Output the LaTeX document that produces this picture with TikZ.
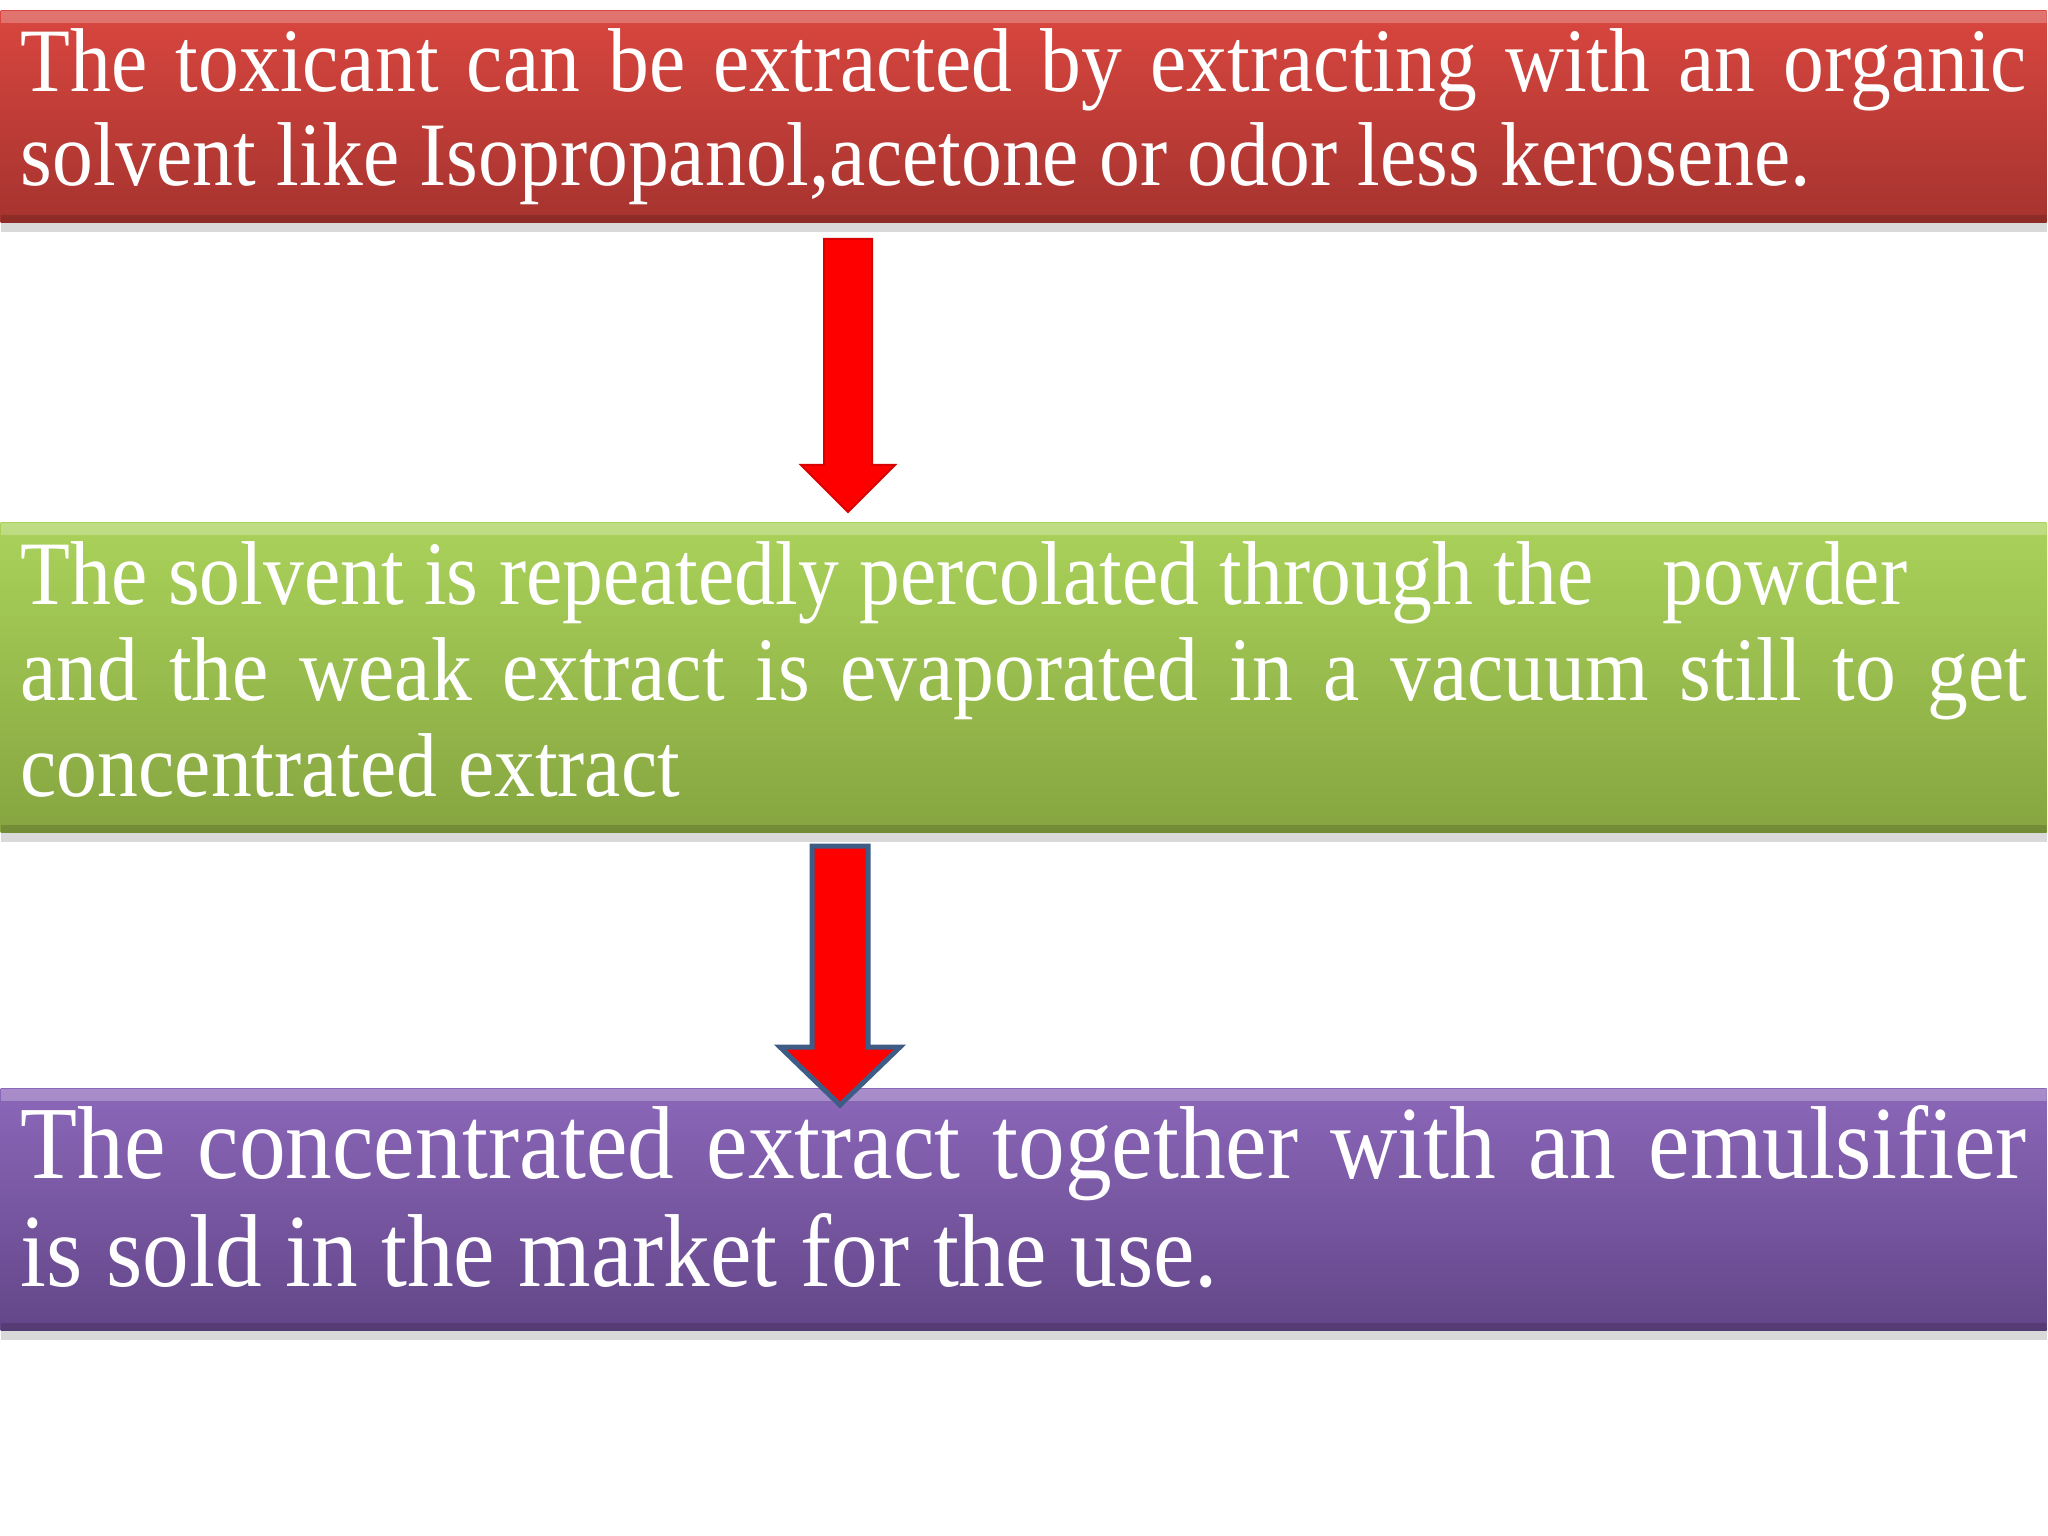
\documentclass[tikz,border=0pt]{standalone}
\usepackage{fontspec}
\setmainfont{Liberation Serif}[FakeStretch=0.90]
\usetikzlibrary{calc,shadows,positioning}

\definecolor{redtop}{HTML}{D9463F}
\definecolor{redbot}{HTML}{A6332F}
\definecolor{greentop}{HTML}{AAD25A}
\definecolor{greenbot}{HTML}{86A540}
\definecolor{purpletop}{HTML}{8B67B9}
\definecolor{purplebot}{HTML}{634689}
\definecolor{arrowedge}{HTML}{3D5C86}

\tikzset{
  stepbox/.style={rectangle, anchor=north west, inner xsep=2mm, inner ysep=0pt,
    minimum width=20.46cm, text width=20.06cm, align=justify, text=white,
    drop shadow={shadow xshift=0pt, shadow yshift=-0.9mm, opacity=0.3},
    path picture={
      \fill[white, opacity=0.25] (path picture bounding box.north west) rectangle ([yshift=-1.2mm]path picture bounding box.north east);
      \fill[black, opacity=0.15] (path picture bounding box.south west) rectangle ([yshift=0.8mm]path picture bounding box.south east);
    }},
  bigtext/.style={font=\fontsize{25.8pt}{26.8pt}\selectfont},
}

\begin{document}
\begin{tikzpicture}
\useasboundingbox (0,0) rectangle (20.48,-15.36);

% the three step boxes
\node[stepbox, bigtext, top color=redtop, bottom color=redbot, minimum height=2.12cm] (extract) at (0,-0.10)
  {The toxicant can be extracted by extracting with an organic\linebreak solvent like Isopropanol,acetone or odor less kerosene.};
\node[stepbox, font=\fontsize{25.8pt}{27.3pt}\selectfont, top color=greentop, bottom color=greenbot, minimum height=3.10cm] (percolate) at (0,-5.22)
  {The solvent is repeatedly percolated through the\hspace*{6.9mm}powder\newline and the weak extract is evaporated in a vacuum still to get\linebreak concentrated extract\par\vspace{1.6mm}};
\node[stepbox, font=\fontsize{29.5pt}{30.7pt}\selectfont, top color=purpletop, bottom color=purplebot, minimum height=2.42cm] (market) at (0,-10.88)
  {The concentrated extract together with an emulsifier\linebreak is sold in the market for the use.\par\vspace{2.6mm}};

% first arrow
\coordinate (a1s) at (8.48,-2.39);
\coordinate (a1h) at (8.48,-4.65);
\coordinate (a1e) at (8.48,-5.12);
\filldraw[fill=red, draw=red!85!black, line width=0.2mm] ($(a1s)+(-0.24,0)$) -- ($(a1s)+(0.24,0)$) -- ($(a1h)+(0.24,0)$) -- ($(a1h)+(0.47,0)$) -- (a1e) -- ($(a1h)+(-0.47,0)$) -- ($(a1h)+(-0.24,0)$) -- cycle;

% second arrow
\coordinate (a2s) at (8.40,-8.46);
\coordinate (a2h) at (8.40,-10.47);
\coordinate (a2e) at (8.40,-11.05);
\filldraw[fill=red, draw=arrowedge, line width=0.5mm, line join=miter] ($(a2s)+(-0.28,0)$) -- ($(a2s)+(0.28,0)$) -- ($(a2h)+(0.28,0)$) -- ($(a2h)+(0.60,0)$) -- (a2e) -- ($(a2h)+(-0.60,0)$) -- ($(a2h)+(-0.28,0)$) -- cycle;

\end{tikzpicture}
\end{document}
